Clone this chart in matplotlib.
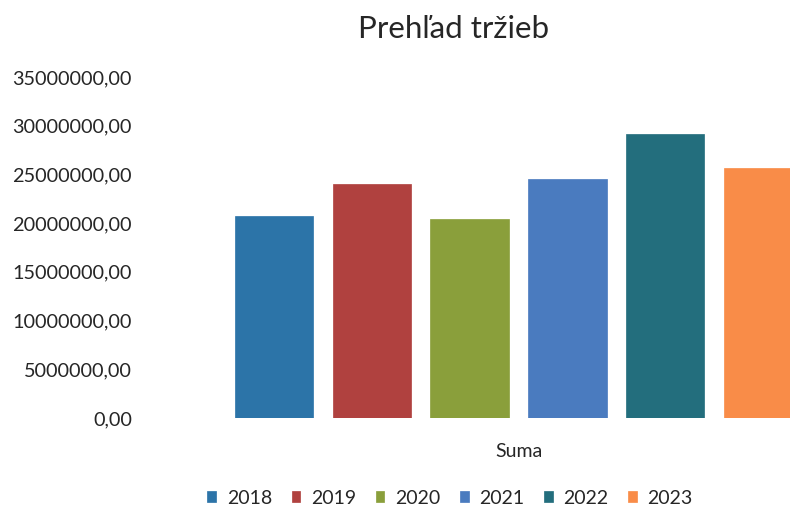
import numpy as np
import matplotlib.pyplot as plt
from matplotlib.ticker import FuncFormatter

# údaje z grafu (tržby podľa rokov)
roky = ['2018', '2019', '2020', '2021', '2022', '2023']
trzby = [20700000, 24000000, 20460000, 24500000, 29100000, 25650000]
kategoria = 'Suma'
farby = ['#2c74a8', '#b0413f', '#8a9f3b', '#4a7bbf', '#236e7d', '#f98c48']

plt.rcParams['font.family'] = ['Lato', 'DejaVu Sans']
text_color = '#262626'

fig = plt.figure(figsize=(7.9, 5.11), dpi=100)
ax = fig.add_axes([150 / 790, 93 / 511, 640 / 790, 341 / 511])

x = np.arange(len(roky))
for i, (rok, hodnota) in enumerate(zip(roky, trzby)):
    ax.bar(x[i], hodnota, width=0.8, color=farby[i], label=rok,
           edgecolor=farby[i], linewidth=0.5)

ax.set_ylim(0, 35000000)
ax.set_yticks(np.arange(0, 35000001, 5000000))
ax.yaxis.set_major_formatter(FuncFormatter(lambda v, p: f'{v:.2f}'.replace('.', ',')))
ax.set_xlim(-1.268, 5.276)
ax.set_xticks([2.5])
ax.set_xticklabels([kategoria])

ax.tick_params(axis='y', length=0, pad=13, labelsize=14.3, labelcolor=text_color)
ax.tick_params(axis='x', length=0, pad=18, labelsize=14, labelcolor=text_color)
for s in ax.spines.values():
    s.set_visible(False)

fig.text(453.5 / 790, 1 - 29 / 511, 'Prehľad tržieb', ha='center', va='center',
         fontsize=22.5, color=text_color)

fig.legend(loc='center', bbox_to_anchor=(450 / 790, 1 - 498 / 511), ncol=6,
           frameon=False, fontsize=14, handlelength=0.45, handleheight=0.45,
           handletextpad=0.55, columnspacing=1.0, labelcolor=text_color)

fig.savefig('out.png', dpi=100)
